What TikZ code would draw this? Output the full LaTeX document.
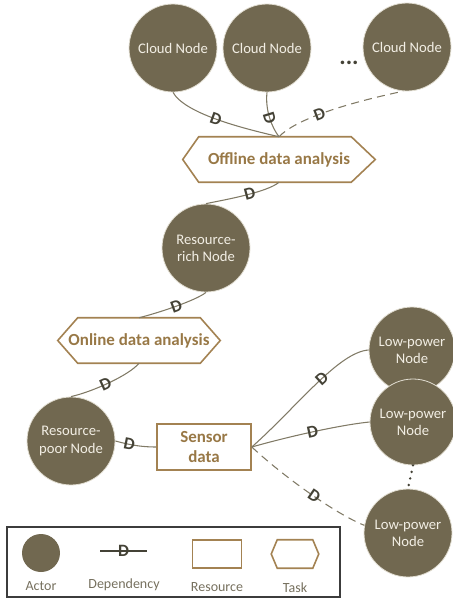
\documentclass[tikz,border=0pt]{standalone}
\usepackage{fontspec}
\setmainfont{Carlito}
\usetikzlibrary{calc}
\definecolor{actorc}{RGB}{113,104,80}
\definecolor{actoredge}{RGB}{226,222,210}
\definecolor{actortext}{RGB}{242,238,228}
\definecolor{taskc}{RGB}{163,130,82}
\definecolor{tasktext}{RGB}{152,120,70}
\definecolor{linkc}{RGB}{128,122,102}
\definecolor{depc}{RGB}{68,66,54}
\definecolor{legtext}{RGB}{118,112,94}
\definecolor{framec}{RGB}{60,60,60}
\newcommand\drawhex[3]{\draw[hexline] (#1.west) -- ($(#1.north west)+(#2,0)$) -- ($(#1.north east)+(-#3,0)$) -- (#1.east) -- ($(#1.south east)+(-#3,0)$) -- ($(#1.south west)+(#2,0)$) -- cycle;}
\begin{document}
\begin{tikzpicture}[x=0.75pt,y=-0.75pt,
  actorn/.style={circle, fill=actorc, draw=actoredge, line width=0.6pt, minimum size=66pt, inner sep=0pt,
    text=actortext, font=\fontsize{11}{12.8}\selectfont, align=center},
  taskbox/.style={draw=none, minimum height=33.75pt, inner sep=0pt, text=tasktext,
    font=\bfseries\fontsize{12.7}{14.8}\selectfont, align=center},
  hexline/.style={draw=taskc, line width=1.2pt, line join=miter},
  resbox/.style={rectangle, draw=taskc, line width=1.2pt, inner sep=0pt, text=tasktext,
    font=\bfseries\fontsize{12.7}{14.8}\selectfont, align=center},
  link/.style={draw=linkc, line width=0.8pt},
  dashedlink/.style={link, dash pattern=on 6pt off 4pt},
  dep/.style={sloped, text=depc, font=\bfseries\fontsize{13}{13}\selectfont, inner sep=0pt},
  legtextn/.style={text=legtext, font=\fontsize{10.5}{12}\selectfont, inner sep=0pt},
  dotline/.style={draw=depc, line width=2pt, line cap=round, dash pattern=on 0pt off 5pt}
]
\useasboundingbox (0,0) rectangle (453,600);

% actors
\node[actorn] (c1) at (173,48) {Cloud Node};
\node[actorn] (c2) at (267,48) {Cloud Node};
\node[actorn] (c3) at (407,47) {Cloud Node};
\node[text=depc, font=\bfseries\fontsize{18}{18}\selectfont, inner sep=0pt] (cdots) at (349,63) {...};
\node[actorn] (rr) at (206,248) {Resource-\\rich Node};
\node[actorn] (rp) at (71,441) {Resource-\\poor Node};
\node[actorn, minimum size=64.5pt] (lp1) at (412,350) {Low-power\\Node};
\node[actorn, minimum size=64.5pt] (lp2) at (413,422) {Low-power\\Node};
\node[actorn] (lp3) at (408,533) {Low-power\\Node};

% tasks and resource
\node[taskbox, minimum width=144pt] (off) at (279,159.5) {Offline data analysis};
\drawhex{off}{16}{24}
\node[taskbox, minimum width=121.5pt] (on) at (139,340.5) {Online data analysis};
\drawhex{on}{20}{20}
\node[resbox, minimum width=70.5pt, minimum height=34.5pt] (sd) at (204,447) {Sensor\\data};

% dependencies
\draw[link] (c1.south) .. controls ($(c1.south)+(12,21)$) and ($(off.north)+(-39,-9)$) .. (off.north)
  node[dep,pos=0.5]{D};
\draw[link] (c2.south) .. controls ($(c2.south)+(-2,18)$) and ($(off.north)+(-7,-9)$) .. (off.north)
  node[dep,pos=0.5]{D};
\draw[dashedlink] (off.north) .. controls ($(off.north)+(21,-22)$) and ($(c3.-95)+(-33,7)$) .. (c3.-95)
  node[dep,pos=0.38]{D};
\draw[link] (off.south) .. controls ($(off.south)+(-12,10)$) and ($(rr.north)+(20,-4)$) .. (rr.north)
  node[dep,pos=0.45]{D};
\draw[link] (rr.south) .. controls ($(rr.south)+(-10,8)$) and ($(on.north)+(20,-5)$) .. (on.north)
  node[dep,pos=0.5]{D};
\draw[link] (on.south) .. controls ($(on.south)+(-10,12)$) and ($(rp.north)+(22,-5)$) .. (rp.north)
  node[dep,pos=0.55]{D};
\draw[link] (rp.east) .. controls ($(rp.east)+(8,2)$) and ($(sd.west)+(-20,0)$) .. (sd.west)
  node[dep,pos=0.45]{D};
\draw[link] (sd.east) .. controls ($(sd.east)+(45,-40)$) and ($(lp1.west)+(-30,2)$) .. (lp1.west)
  node[dep,pos=0.55]{D};
\draw[link] (sd.east) .. controls ($(sd.east)+(35,-10)$) and ($(lp2.west)+(-30,3)$) .. (lp2.west)
  node[dep,pos=0.5]{D};
\draw[dashedlink] (sd.east) .. controls ($(sd.east)+(30,28)$) and ($(lp3.170)+(-30,-12)$) .. (lp3.170)
  node[dep,pos=0.55]{D};
\draw[dotline] (lp2.south) -- (lp3.north);

% legend
\node[draw=framec, line width=0.8pt, minimum width=249.75pt, minimum height=52.5pt, inner sep=0pt] (legend) at (173.5,562) {};
\node[actorn, minimum size=28.5pt, draw=none] (la) at (41,553) {};
\node[legtextn] (lat) at (41,586) {Actor};
\coordinate (ld1) at (100,551);
\coordinate (ld2) at (147,551);
\draw[link, draw=depc] (ld1) -- (ld2) node[dep,pos=0.5]{D};
\node[legtextn] (ldt) at (124,585) {Dependency};
\node[resbox, minimum width=36.75pt, minimum height=21pt] (lr) at (217,554) {};
\node[legtextn] (lrt) at (217,587) {Resource};
\node[taskbox, minimum width=35.25pt, minimum height=21pt] (lt) at (295,554) {};
\drawhex{lt}{6}{6}
\node[legtextn] (ltt) at (295,588) {Task};
\end{tikzpicture}
\end{document}
